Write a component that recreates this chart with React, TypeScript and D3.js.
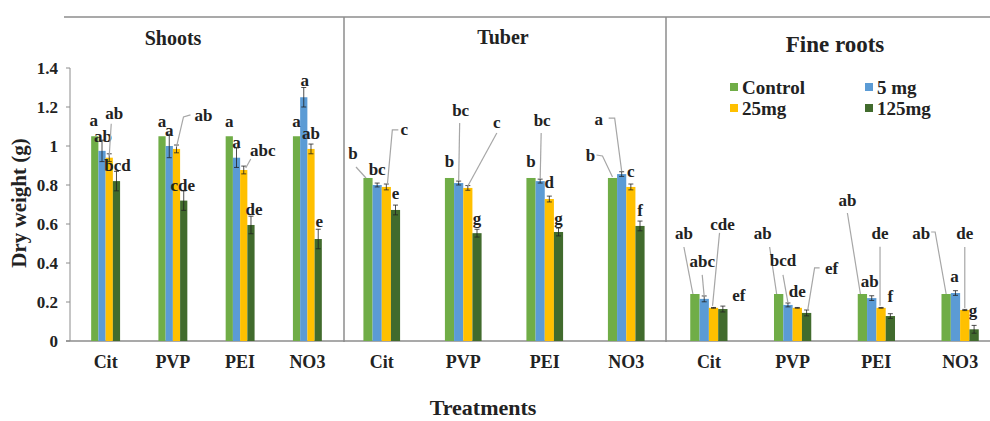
import React from 'react';
import * as d3 from 'd3';

const treatments = ['Cit', 'PVP', 'PEI', 'NO3'];
const seriesNames = ['Control', '5 mg', '25mg', '125mg'];
const seriesColors = ['#70AD47', '#5B9BD5', '#FFC000', '#416B2D'];
const yTicks = [0, 0.2, 0.4, 0.6, 0.8, 1, 1.2, 1.4];

// values are [series][treatment]
const shootsValues = [
  [1.05, 1.05, 1.05, 1.05],
  [0.975, 1.0, 0.94, 1.25],
  [0.94, 0.985, 0.877, 0.985],
  [0.82, 0.72, 0.595, 0.523],
];
const shootsErrors = [
  [0, 0, 0, 0],
  [0.055, 0.06, 0.05, 0.05],
  [0.02, 0.02, 0.02, 0.025],
  [0.05, 0.05, 0.045, 0.05],
];
const shootsLetters = [
  ['a', 'a', 'a', 'a'],
  ['ab', 'a', 'a', 'a'],
  ['ab', 'ab', 'abc', 'ab'],
  ['bcd', 'cde', 'de', 'e'],
];

const tuberValues = [
  [0.836, 0.836, 0.836, 0.836],
  [0.8, 0.81, 0.82, 0.856],
  [0.79, 0.785, 0.728, 0.79],
  [0.672, 0.553, 0.559, 0.59],
];
const tuberErrors = [
  [0, 0, 0, 0],
  [0.01, 0.01, 0.01, 0.012],
  [0.015, 0.012, 0.015, 0.015],
  [0.025, 0.02, 0.02, 0.025],
];
const tuberLetters = [
  ['b', 'b', 'b', 'b'],
  ['bc', 'bc', 'bc', 'a'],
  ['c', 'c', 'd', 'c'],
  ['e', 'g', 'g', 'f'],
];

const rootsValues = [
  [0.241, 0.241, 0.241, 0.241],
  [0.216, 0.185, 0.22, 0.246],
  [0.17, 0.17, 0.17, 0.159],
  [0.164, 0.144, 0.128, 0.06],
];
const rootsErrors = [
  [0, 0, 0, 0],
  [0.015, 0.01, 0.012, 0.012],
  [0.002, 0.002, 0.002, 0.003],
  [0.015, 0.015, 0.012, 0.02],
];
const rootsLetters = [
  ['ab', 'ab', 'ab', 'ab'],
  ['abc', 'bcd', 'ab', 'a'],
  ['cde', 'de', 'de', 'de'],
  ['ef', 'ef', 'f', 'g'],
];

// letter placement: [dx, dy, leader points] relative to the bar top centre
type Place = [number, number, number[][]?];
const shootsPlaces: Place[][] = [
  [[-1, -10], [0, -9], [0, -9], [0, -9]],
  [[1, -9], [0, -10], [0, -10], [1, -11]],
  [[5, -39, [[2, -34], [0, -2]]], [27, -28, [[14, -34], [7, -32], [0, -2]]], [19, -14, [[7, -11], [2, -2]]], [0, -10]],
  [[1, -10], [-1, -10], [3, -10], [1, -12]],
];
const tuberPlaces: Place[][] = [
  [[-15, -19, [[-12, -11], [-2, 0]]], [0, -11], [0, -11], [-22, -17, [[-16, -23], [-10, -22], [0, -1]]]],
  [[0, -10], [2, -67, [[1, -60], [0, -2]]], [2, -55, [[1, -48], [0, -2]]], [-23, -49, [[-13, -56], [-7, -56], [0, -3]]]],
  [[18, -52, [[12, -57], [6, -57], [1, -2]]], [29, -60, [[29, -55], [0, -2]]], [0, -11], [0, -10]],
  [[0, -11], [0, -9], [0, -8], [0, -10]],
];
const rootsPlaces: Place[][] = [
  [[-11, -55, [[-11, -47], [-2, 0]]], [-16, -55, [[-9, -47], [-2, 0]]], [-15, -88, [[-15, -81], [-2, 0]]], [-25, -55, [[-15, -62], [-11, -62], [0, 0]]]],
  [[-2, -32, [[-2, -24], [0, -2]]], [-5, -39, [[-5, -30], [0, -2]]], [-2, -11], [-1, -11]],
  [[9, -78, [[6, -75], [-1, -2]]], [0, -11], [-1, -69, [[-1, -61], [-1, -2]]], [0, -71, [[0, -63], [0, -2]]]],
  [[16, -8], [25, -39, [[13, -45], [8, -45], [1, -2]]], [0, -14], [-1, -13]],
];

const panels = [
  { title: 'Shoots', x0: 72, x1: 341, frac: 0.43, tx: 173, ty: 45, tsize: 20, values: shootsValues, errors: shootsErrors, letters: shootsLetters, places: shootsPlaces },
  { title: 'Tuber', x0: 341, x1: 667, frac: 0.45, tx: 503, ty: 44, tsize: 20, values: tuberValues, errors: tuberErrors, letters: tuberLetters, places: tuberPlaces },
  { title: 'Fine roots', x0: 667, x1: 1002, frac: 0.445, tx: 835, ty: 52, tsize: 23, values: rootsValues, errors: rootsErrors, letters: rootsLetters, places: rootsPlaces },
];

const W = 990;
const H = 421;
const FONT = '"Liberation Serif", "Times New Roman", serif';
const axisColor = '#8C8C8C';

export default function App() {
  const y = d3.scaleLinear().domain([0, 1.4]).range([341, 68]);

  return (
    <svg
      width={W}
      height={H}
      style={{ position: 'absolute', left: 0, top: 0, display: 'block', background: '#fff' }}
      fontFamily={FONT}
      fontWeight="bold"
    >
      {/* frame lines */}
      <line x1={64} x2={W} y1={17} y2={17} stroke={axisColor} strokeWidth={1.5} />
      <line x1={344} x2={344} y1={17} y2={342} stroke={axisColor} strokeWidth={1.5} />
      <line x1={666} x2={666} y1={17} y2={342} stroke={axisColor} strokeWidth={1.5} />
      <line x1={66} x2={W} y1={y(0)} y2={y(0)} stroke={axisColor} strokeWidth={1.5} />

      {/* y axis */}
      <line x1={70} x2={70} y1={y(1.4)} y2={y(0)} stroke={axisColor} strokeWidth={1} />
      {yTicks.map((t) => (
        <g key={t}>
          <line x1={66} x2={70} y1={y(t)} y2={y(t)} stroke={axisColor} />
          <text x={58} y={y(t) + 6} textAnchor="end" fontSize={17} fill="#222">
            {d3.format('~g')(t)}
          </text>
        </g>
      ))}
      <text
        transform={`translate(26, 203) rotate(-90)`}
        textAnchor="middle"
        fontSize={21}
        fill="#222"
      >
        Dry weight (g)
      </text>
      <text x={483} y={415} textAnchor="middle" fontSize={22} fill="#222">
        Treatments
      </text>

      {panels.map((p) => {
        const xg = d3.scaleBand().domain(treatments).range([p.x0, p.x1]);
        return (
          <g key={p.title}>
            <text x={p.tx} y={p.ty} textAnchor="middle" fontSize={p.tsize} fill="#222">
              {p.title}
            </text>
            {treatments.map((t, ti) => {
              const c = (xg(t) as number) + xg.bandwidth() / 2;
              const total = xg.bandwidth() * p.frac;
              const xs = d3.scaleBand().domain(seriesNames).range([c - total / 2, c + total / 2]);
              return (
                <g key={t}>
                  <text x={c} y={368} textAnchor="middle" fontSize={18} fill="#222">
                    {t}
                  </text>
                  {seriesNames.map((s, si) => {
                    const v = p.values[si][ti];
                    const e = p.errors[si][ti];
                    const bx = xs(s) as number;
                    const bw = xs.bandwidth();
                    const cx = bx + bw / 2;
                    const top = y(v);
                    return (
                      <g key={s}>
                        <rect x={bx} y={top} width={bw} height={y(0) - top} fill={seriesColors[si]} />
                        {e > 0 && (
                          <g stroke="#222" strokeWidth={0.8}>
                            <line x1={cx} x2={cx} y1={y(v + e)} y2={y(v - e)} />
                            <line x1={cx - 2.5} x2={cx + 2.5} y1={y(v + e)} y2={y(v + e)} />
                            <line x1={cx - 2.5} x2={cx + 2.5} y1={y(v - e)} y2={y(v - e)} />
                          </g>
                        )}
                      </g>
                    );
                  })}
                  {seriesNames.map((s, si) => {
                    const v = p.values[si][ti];
                    const cx = (xs(s) as number) + xs.bandwidth() / 2;
                    const top = y(v);
                    const [dx, dy, leader] = p.places[si][ti];
                    const line = d3.line();
                    return (
                      <g key={s + '-lbl'}>
                        {leader && (
                          <path
                            d={line(leader.map(([px, py]) => [cx + px, top + py]) as [number, number][]) || ''}
                            fill="none"
                            stroke="#A6A6A6"
                            strokeWidth={1.2}
                          />
                        )}
                        <text x={cx + dx} y={top + dy} textAnchor="middle" fontSize={17} fill="#222">
                          {p.letters[si][ti]}
                        </text>
                      </g>
                    );
                  })}
                </g>
              );
            })}
          </g>
        );
      })}

      {/* legend */}
      {seriesNames.map((s, i) => {
        const lx = i % 2 === 0 ? 734 : 869;
        const ly = i < 2 ? 87 : 108;
        return (
          <g key={s}>
            <rect x={lx - 4} y={ly - 4} width={8} height={8} fill={seriesColors[i]} />
            <text x={lx + 8} y={ly + 6.5} fontSize={19} fill="#222">
              {s}
            </text>
          </g>
        );
      })}
    </svg>
  );
}
